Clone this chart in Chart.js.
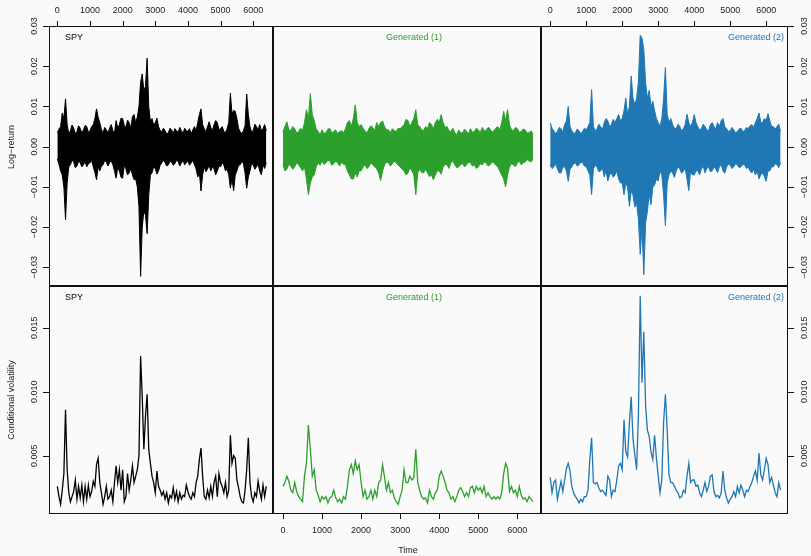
<!DOCTYPE html>
<html>
<head>
<meta charset="utf-8">
<title>SPY vs generated paths</title>
<script src="https://cdn.jsdelivr.net/npm/chart.js@4.4.1/dist/chart.umd.min.js"></script>
<style>
  html, body { margin: 0; padding: 0; background: #fafafa; }
  #wrap { position: relative; width: 811px; height: 556px; }
  #wrap canvas { position: absolute; left: 0; top: 0; }
</style>
</head>
<body>
<div id="wrap">
  <canvas id="c1" width="811" height="556"></canvas>
  <canvas id="c2" width="811" height="556"></canvas>
  <canvas id="c3" width="811" height="556"></canvas>
  <canvas id="c4" width="811" height="556"></canvas>
  <canvas id="c5" width="811" height="556"></canvas>
  <canvas id="c6" width="811" height="556"></canvas>
</div>
<script>
// time grid (step 50) shared by every series
const timeGrid = [0,50,100,150,200,250,300,350,400,450,500,550,600,650,700,750,800,850,900,950,
  1000,1050,1100,1150,1200,1250,1300,1350,1400,1450,1500,1550,1600,1650,1700,1750,1800,1850,1900,1950,
  2000,2050,2100,2150,2200,2250,2300,2350,2400,2450,2500,2550,2600,2650,2700,2750,2800,2850,2900,2950,
  3000,3050,3100,3150,3200,3250,3300,3350,3400,3450,3500,3550,3600,3650,3700,3750,3800,3850,3900,3950,
  4000,4050,4100,4150,4200,4250,4300,4350,4400,4450,4500,4550,4600,4650,4700,4750,4800,4850,4900,4950,
  5000,5050,5100,5150,5200,5250,5300,5350,5400,5450,5500,5550,5600,5650,5700,5750,5800,5850,5900,5950,
  6000,6050,6100,6150,6200,6250,6300,6350,6400];

// log-return envelopes (upper / lower), in thousandths
const spyRetHi = [3.5,4.4,5.0,8.4,7.0,11.9,5.5,3.2,4.0,5.4, 4.6,3.3,3.8,5.2,4.6,3.4,4.2,5.3,5.0,3.6,
  4.0,5.0,5.5,7.0,9.4,7.3,6.0,4.2,3.5,4.8, 4.2,3.4,4.6,5.5,4.0,3.4,6.5,4.6,5.5,7.1,
  7.0,5.3,4.8,6.6,6.0,4.6,7.5,8.0,6.0,7.4, 10.0,16.0,18.1,14.0,15.0,22.0,10.0,6.2,7.0,5.4,
  6.0,7.1,5.0,4.0,3.8,4.6,4.0,3.2,3.5,4.6, 4.2,3.3,4.5,4.0,3.6,4.8,4.0,3.3,4.6,4.0,
  3.8,4.5,3.2,4.2,5.0,4.0,6.0,8.0,9.4,5.5, 4.5,3.7,5.0,6.2,4.8,4.0,5.5,6.5,6.0,4.2,
  4.5,5.0,3.8,3.5,4.5,6.0,13.3,8.2,9.0,8.8, 7.0,4.6,3.8,3.2,4.0,5.2,13.1,8.0,5.0,3.7,
  4.0,5.6,5.0,4.2,5.5,4.0,4.5,5.5,4.0];
const spyRetLo = [-3.0,-4.4,-6.0,-7.0,-10.0,-18.1,-9.0,-5.0,-4.5,-3.3, -3.8,-5.2,-4.8,-3.6,-4.0,-5.0,-4.5,-3.6,-5.0,-4.2,
  -4.0,-3.4,-5.0,-6.4,-8.2,-5.0,-6.0,-4.8,-4.5,-3.4, -3.8,-4.8,-4.0,-3.4,-4.5,-6.0,-7.8,-5.2,-6.0,-7.6,
  -7.8,-4.6,-5.5,-7.0,-6.5,-5.4,-7.0,-8.2,-8.0,-10.0, -15.0,-32.2,-20.0,-16.0,-17.0,-21.6,-12.0,-7.0,-6.5,-5.0,
  -5.5,-6.8,-6.0,-4.6,-4.0,-3.3,-4.0,-4.8,-4.5,-3.6, -3.8,-4.6,-4.2,-3.4,-3.6,-4.8,-4.0,-3.4,-4.5,-4.0,
  -3.5,-4.6,-4.0,-3.4,-4.5,-5.5,-7.5,-6.4,-11.0,-7.0, -5.0,-6.2,-5.5,-4.6,-6.0,-5.0,-5.5,-7.0,-6.0,-4.8,
  -5.0,-4.0,-4.5,-6.0,-5.5,-7.0,-10.3,-8.0,-10.9,-7.0, -6.0,-4.6,-4.5,-3.6,-4.2,-6.5,-10.3,-7.5,-6.0,-4.2,
  -4.5,-5.6,-5.0,-4.4,-6.0,-7.0,-4.5,-5.4,-4.0];
const gen1RetHi = [3.8,5.0,6.2,4.2,4.0,5.0,4.5,3.4,3.8,4.6, 4.0,6.0,9.2,7.0,13.2,8.0,6.5,4.4,3.8,3.0,
  4.2,3.3,3.5,4.4,4.5,3.4,3.8,4.2,3.2,3.8, 4.0,3.4,4.5,6.0,6.5,5.0,7.0,10.4,6.0,5.0,
  5.5,4.6,4.0,3.4,4.5,5.2,4.8,4.0,6.0,5.0, 6.0,6.4,5.0,4.2,4.2,3.5,4.5,4.0,3.8,4.6,
  4.5,5.0,5.5,6.8,6.5,5.0,6.0,7.0,9.2,5.5, 5.0,4.2,4.0,5.0,4.5,6.0,5.5,4.4,6.0,6.8,
  6.0,8.0,6.0,4.8,5.0,4.0,3.8,4.6,3.5,3.0, 4.2,3.4,3.5,4.4,3.8,3.2,4.5,3.6,3.8,4.6,
  4.2,3.5,4.8,4.0,4.0,4.8,4.5,3.6,4.0,4.6, 5.0,4.2,6.0,8.8,6.5,9.2,5.5,4.2,4.0,4.8,
  4.5,3.6,3.8,4.4,4.2,3.4,3.5,4.0,3.2];
const gen1RetLo = [-4.5,-6.0,-5.5,-4.4,-4.8,-5.6,-5.0,-4.0,-4.5,-5.2, -6.0,-5.0,-8.0,-11.9,-9.0,-7.5,-7.0,-5.0,-4.0,-4.6,
  -3.5,-4.4,-4.0,-3.4,-3.5,-4.6,-4.2,-3.6,-4.0,-4.8, -3.8,-4.4,-4.5,-6.0,-7.0,-8.0,-8.0,-6.6,-7.5,-6.0,
  -6.0,-5.0,-4.5,-5.4,-5.0,-4.0,-4.5,-5.0,-5.5,-6.5, -8.4,-6.0,-4.5,-3.8,-4.0,-4.8,-4.2,-3.6,-4.0,-4.6,
  -5.0,-5.6,-6.0,-7.0,-6.5,-5.2,-6.0,-7.0,-11.9,-6.5, -5.5,-6.4,-6.5,-5.6,-6.5,-7.4,-7.0,-8.2,-7.0,-6.0,
  -6.0,-6.8,-5.0,-4.4,-4.5,-5.4,-4.0,-3.6,-4.5,-5.2, -5.0,-4.4,-4.2,-5.0,-4.5,-3.8,-4.0,-4.8,-4.5,-5.4,
  -5.0,-4.2,-4.5,-3.8,-4.0,-4.8,-4.5,-3.8,-4.0,-4.6, -5.0,-6.0,-7.0,-8.0,-10.0,-7.0,-5.0,-4.2,-4.5,-5.0,
  -4.0,-3.6,-4.5,-4.0,-3.8,-3.2,-3.5,-3.8,-3.0];
const gen2RetHi = [5.9,4.6,4.0,3.2,3.8,4.8,4.5,3.6,5.5,6.4, 10.0,5.0,4.0,3.3,3.5,4.4,4.0,3.2,3.8,4.6,
  4.2,5.0,6.0,14.2,5.0,4.0,4.5,5.6,5.0,4.2, 6.0,7.0,6.5,5.0,5.5,6.8,6.0,7.0,8.0,6.5,
  7.0,9.0,12.1,8.0,10.0,17.6,12.0,10.5,12.0,16.0, 27.7,27.0,24.1,16.0,12.0,14.0,10.0,11.3,9.0,7.0,
  6.0,5.0,7.0,12.0,19.7,8.0,6.0,7.0,5.5,4.6, 4.5,5.6,5.0,4.0,4.5,5.5,8.1,6.0,5.0,6.0,
  8.0,6.0,5.0,4.2,4.5,5.6,5.0,4.2,4.0,5.5, 6.0,5.0,4.5,6.0,5.0,6.5,7.0,5.0,4.5,3.8,
  4.0,4.8,4.2,3.5,3.8,4.4,4.6,3.8,4.0,4.8, 4.5,5.2,5.5,4.8,6.0,7.0,8.4,6.0,6.0,7.0,
  6.5,8.2,6.5,5.0,5.0,4.4,5.0,5.6,3.8];
const gen2RetLo = [-4.5,-5.4,-5.0,-4.2,-5.5,-6.5,-6.5,-5.0,-5.0,-6.0, -8.6,-5.6,-5.0,-4.2,-4.0,-4.8,-4.5,-3.8,-4.0,-4.8,
  -5.0,-6.0,-7.0,-11.9,-5.5,-4.6,-5.0,-6.2,-6.0,-5.2, -7.5,-6.0,-8.5,-7.0,-6.5,-7.6,-7.0,-6.0,-8.0,-9.0,
  -9.0,-11.9,-9.0,-10.0,-14.8,-11.0,-12.0,-15.0,-14.0,-18.0, -26.7,-20.0,-31.8,-19.0,-16.0,-12.0,-14.4,-10.0,-9.5,-8.0,
  -8.5,-6.0,-7.0,-12.0,-19.6,-9.0,-7.0,-6.0,-6.5,-7.6, -6.0,-5.0,-5.5,-6.6,-6.0,-5.4,-8.0,-10.9,-6.0,-7.0,
  -7.0,-6.0,-6.0,-7.0,-5.5,-4.8,-6.5,-5.4,-5.0,-6.2, -6.0,-5.0,-5.5,-6.4,-5.0,-4.4,-6.0,-6.6,-5.0,-4.4,
  -4.5,-5.4,-5.0,-4.2,-4.5,-5.2,-5.0,-4.4,-4.5,-5.4, -5.0,-6.0,-6.5,-5.6,-7.0,-6.0,-8.0,-7.0,-6.5,-7.4,
  -8.6,-6.0,-6.0,-5.0,-5.0,-4.2,-4.5,-5.2,-4.0];

// conditional volatility, in thousandths
const spyVol = [2.6,1.8,1.2,2.3,3.6,8.6,3.9,2.1,1.4,1.8, 2.2,3.1,1.6,2.6,1.7,2.7,1.4,2.6,1.6,2.7,
  1.8,2.2,3.0,2.6,4.3,4.8,2.9,2.1,1.2,1.8, 2.6,1.6,1.8,2.3,1.4,2.9,4.2,2.9,3.9,2.3,
  3.9,1.4,1.8,3.6,2.3,3.1,4.2,2.9,3.4,3.9, 5.0,12.8,9.6,5.5,8.1,9.8,5.5,4.4,3.4,2.9,
  2.1,3.8,2.6,2.3,1.9,2.2,1.6,2.1,1.3,1.9, 1.7,2.5,1.6,2.2,1.4,2.1,1.6,1.9,1.8,2.7,
  2.2,1.8,1.6,2.1,1.8,2.9,3.4,4.7,5.6,3.4, 1.8,1.6,2.3,1.7,2.6,1.8,2.9,3.4,1.8,3.6,
  2.9,2.6,2.1,2.9,1.8,2.3,6.6,4.4,5.0,4.8, 3.1,2.5,1.8,1.4,1.3,2.3,3.9,6.4,2.9,1.8,
  1.4,2.1,1.8,3.0,2.2,1.6,2.7,1.8,2.6];
const gen1Vol = [2.6,2.9,3.4,3.0,2.3,2.1,2.9,2.2,1.8,1.6, 1.4,3.4,4.4,7.4,5.5,3.4,3.9,2.3,1.9,1.4,
  1.8,1.6,1.8,1.3,1.7,1.8,2.3,1.7,1.4,1.6, 1.3,1.8,1.6,2.6,3.9,4.3,3.6,4.6,3.9,4.3,
  2.9,1.8,2.3,1.6,1.8,2.3,1.6,2.3,1.8,2.9, 3.1,4.3,3.3,2.3,2.9,2.1,2.3,1.7,1.4,1.2,
  1.8,2.3,3.9,2.9,2.9,3.4,3.1,3.3,5.5,2.9, 2.3,1.8,1.6,1.7,1.3,2.3,1.8,1.6,2.1,2.3,
  3.4,3.8,3.4,2.9,2.3,2.1,1.6,1.8,1.4,1.8, 2.3,2.5,2.2,1.8,2.1,1.8,2.5,2.6,2.1,2.6,
  2.3,2.5,2.1,2.6,1.8,2.1,1.8,1.6,1.8,1.6, 1.8,1.6,2.1,3.6,4.4,4.0,2.2,2.6,2.1,2.3,
  1.8,2.6,1.9,1.6,1.7,1.4,1.8,1.6,1.4];
const gen2Vol = [3.3,2.1,2.9,3.1,1.6,2.3,3.0,2.2,3.1,4.0, 4.4,3.8,2.6,2.1,1.8,1.6,1.3,1.6,1.4,1.8,
  1.8,2.3,4.7,6.4,2.9,2.8,2.9,2.5,2.2,2.3, 2.1,1.9,3.4,3.1,1.8,2.3,2.2,3.1,4.2,4.4,
  3.9,7.8,5.3,4.9,7.6,9.6,6.3,5.1,3.9,8.1, 17.5,10.7,14.7,8.9,7.0,6.5,5.3,4.7,6.6,4.8,
  3.4,2.1,3.1,7.6,9.8,7.0,3.5,2.9,2.9,2.6, 2.3,2.1,1.7,1.8,2.3,2.1,3.4,4.4,2.9,3.1,
  3.1,2.6,2.7,2.1,1.8,2.3,2.9,2.2,2.6,3.4, 3.5,2.2,1.8,1.9,1.7,2.1,3.8,2.3,1.7,1.3,
  1.6,1.8,2.2,1.8,2.6,2.1,2.7,2.3,1.8,2.3, 2.2,2.6,2.9,3.4,3.8,3.1,5.2,3.5,3.1,3.9,
  4.8,4.3,2.9,3.3,2.7,2.1,1.8,2.9,2.3];

const seriesNames = ["SPY", "Generated (1)", "Generated (2)"];
const seriesColors = ["#000000", "#2ca02c", "#1f77b4"];
const timeTicks = [0, 1000, 2000, 3000, 4000, 5000, 6000];
const retTicks = [-0.03, -0.02, -0.01, 0, 0.01, 0.02, 0.03];
const retTickLabels = ["\u22120.03", "\u22120.02", "\u22120.01", "0.00", "0.01", "0.02", "0.03"];
const volTicks = [0.005, 0.01, 0.015];
const volTickLabels = ["0.005", "0.010", "0.015"];

const FONT = "9px 'Liberation Sans', Arial, Helvetica, sans-serif";
const W = 811, H = 556;
const cols = [[49, 273], [273, 541], [541, 788]];
const rows = [[26, 286], [286, 514]];

function pts(xs, ys) {
  return xs.map((x, i) => ({ x: x, y: ys[i] / 1000 }));
}

function vText(ctx, txt, x, y) {
  ctx.save();
  ctx.translate(x, y);
  ctx.rotate(-Math.PI / 2);
  ctx.fillText(txt, 0, 0);
  ctx.restore();
}

const panelPlugin = {
  id: "panel",
  afterDatasetsDraw(chart, args, o) {
    const ctx = chart.ctx;
    const a = chart.chartArea;
    const xs = chart.scales.x, ys = chart.scales.y;
    const L = Math.round(a.left), R = Math.round(a.right);
    const T = Math.round(a.top), B = Math.round(a.bottom);
    ctx.save();
    ctx.strokeStyle = "#111";
    ctx.lineWidth = 1;
    ctx.strokeRect(L + 0.5, T + 0.5, R - L - 1, B - T - 1);

    ctx.font = FONT;
    ctx.fillStyle = "#222";
    ctx.textBaseline = "middle";
    ctx.textAlign = "center";
    ctx.beginPath();
    if (o.xTop || o.xBottom) {
      timeTicks.forEach(v => {
        const p = Math.round(xs.getPixelForValue(v)) + 0.5;
        if (o.xTop) { ctx.moveTo(p, T - 5); ctx.lineTo(p, T); }
        if (o.xBottom) { ctx.moveTo(p, B); ctx.lineTo(p, B + 5); }
      });
    }
    o.yTicks.forEach(v => {
      const p = Math.round(ys.getPixelForValue(v)) + 0.5;
      if (o.yLeft) { ctx.moveTo(L - 6, p); ctx.lineTo(L, p); }
      if (o.yRight) { ctx.moveTo(R, p); ctx.lineTo(R + 6, p); }
    });
    ctx.stroke();

    timeTicks.forEach(v => {
      const p = xs.getPixelForValue(v);
      if (o.xTop) ctx.fillText(String(v), p, T - 15);
      if (o.xBottom) ctx.fillText(String(v), p, B + 17);
    });
    o.yTicks.forEach((v, i) => {
      const p = ys.getPixelForValue(v);
      if (o.yLeft) vText(ctx, o.yLabels[i], L - 14, p);
      if (o.yRight) vText(ctx, o.yLabels[i], R + 17, p);
    });

    (o.titles || []).forEach(t => {
      if (t.vertical) vText(ctx, t.text, t.x, t.y);
      else ctx.fillText(t.text, t.x, t.y);
    });

    ctx.fillStyle = o.color;
    ctx.textAlign = o.labelAlign;
    ctx.fillText(o.name, o.labelX, T + 12);
    ctx.restore();
  }
};

function makePanel(id, row, col, datasets, yMin, yMax, extra) {
  const r = rows[row], c = cols[col];
  return new Chart(document.getElementById(id), {
    type: "line",
    data: { datasets: datasets },
    plugins: [panelPlugin],
    options: {
      responsive: false,
      animation: false,
      events: [],
      layout: { padding: { left: c[0], right: W - c[1], top: r[0], bottom: H - r[1] } },
      elements: { line: { tension: 0 }, point: { radius: 0 } },
      scales: {
        x: { type: "linear", min: -256, max: 6606, display: false },
        y: { type: "linear", min: yMin, max: yMax, display: false }
      },
      plugins: {
        legend: { display: false },
        tooltip: { enabled: false },
        panel: extra
      }
    }
  });
}

function band(times, hi, lo, color) {
  return [
    { data: pts(times, hi), borderColor: color, borderWidth: 1, fill: false },
    { data: pts(times, lo), borderColor: color, borderWidth: 1, fill: "-1", backgroundColor: color }
  ];
}

function path(times, vals, color) {
  return [{ data: pts(times, vals), borderColor: color, borderWidth: 1.3, fill: false }];
}

const labelAlign = ["left", "center", "right"];
const labelX = [65, 414, 784];

// top row: log-returns
makePanel("c1", 0, 0, band(timeGrid, spyRetHi, spyRetLo, seriesColors[0]), -0.0346, 0.0300, {
  name: seriesNames[0], color: seriesColors[0], labelAlign: labelAlign[0], labelX: labelX[0],
  xTop: true, yLeft: true, yTicks: retTicks, yLabels: retTickLabels,
  titles: [
    { text: "Log\u2212return", x: 12, y: 147, vertical: true },
    { text: "Conditional volatility", x: 12, y: 400, vertical: true },
    { text: "Time", x: 408, y: 551, vertical: false }
  ]
});
makePanel("c2", 0, 1, band(timeGrid, gen1RetHi, gen1RetLo, seriesColors[1]), -0.0346, 0.0300, {
  name: seriesNames[1], color: seriesColors[1], labelAlign: labelAlign[1], labelX: labelX[1],
  yTicks: retTicks, yLabels: retTickLabels
});
makePanel("c3", 0, 2, band(timeGrid, gen2RetHi, gen2RetLo, seriesColors[2]), -0.0346, 0.0300, {
  name: seriesNames[2], color: seriesColors[2], labelAlign: labelAlign[2], labelX: labelX[2],
  xTop: true, yRight: true, yTicks: retTicks, yLabels: retTickLabels
});

// bottom row: conditional volatility
makePanel("c4", 1, 0, path(timeGrid, spyVol, seriesColors[0]), 0.00044, 0.01827, {
  name: seriesNames[0], color: seriesColors[0], labelAlign: labelAlign[0], labelX: labelX[0],
  yLeft: true, yTicks: volTicks, yLabels: volTickLabels
});
makePanel("c5", 1, 1, path(timeGrid, gen1Vol, seriesColors[1]), 0.00044, 0.01827, {
  name: seriesNames[1], color: seriesColors[1], labelAlign: labelAlign[1], labelX: labelX[1],
  xBottom: true, yTicks: volTicks, yLabels: volTickLabels
});
makePanel("c6", 1, 2, path(timeGrid, gen2Vol, seriesColors[2]), 0.00044, 0.01827, {
  name: seriesNames[2], color: seriesColors[2], labelAlign: labelAlign[2], labelX: labelX[2],
  yRight: true, yTicks: volTicks, yLabels: volTickLabels
});
</script>
</body>
</html>
